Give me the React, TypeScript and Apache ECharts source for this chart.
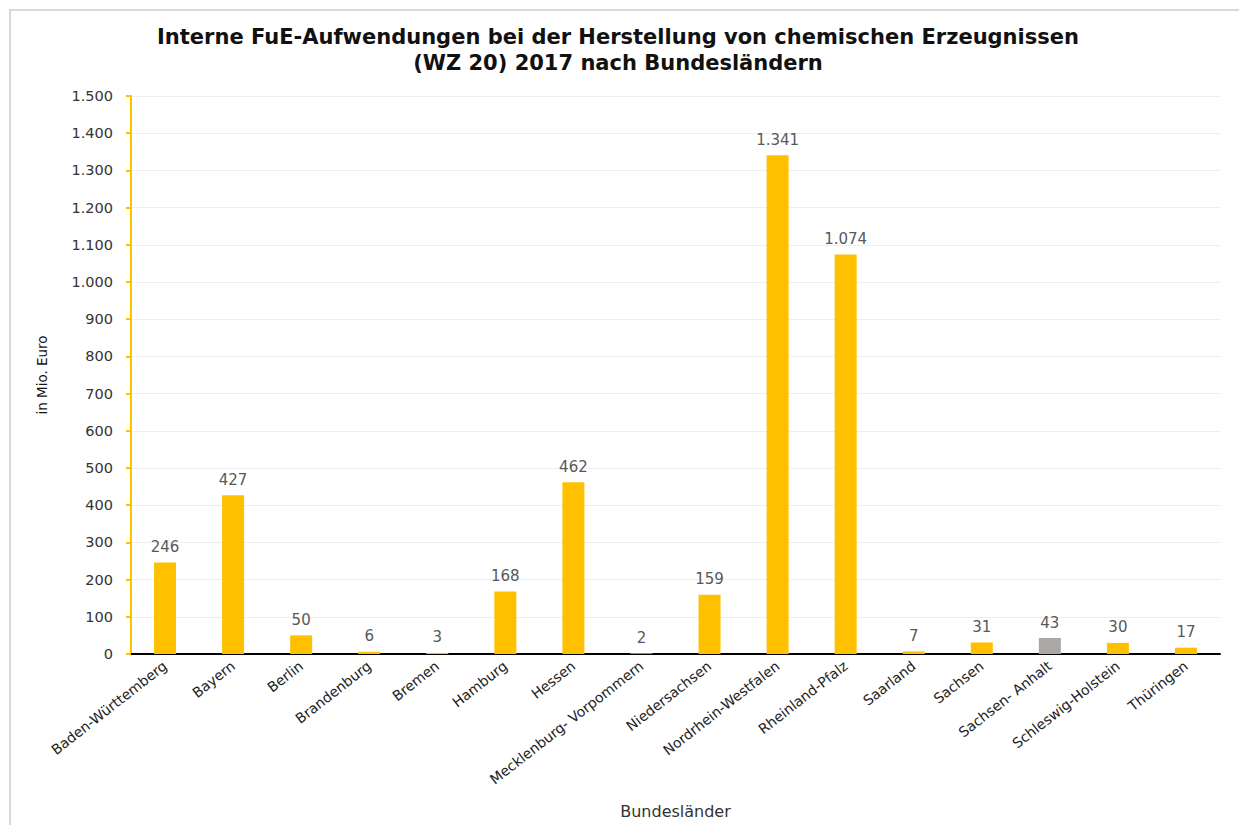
import React, { useEffect, useRef } from "react";
import * as echarts from "echarts";

const categories = [
  "Baden-Württemberg",
  "Bayern",
  "Berlin",
  "Brandenburg",
  "Bremen",
  "Hamburg",
  "Hessen",
  "Mecklenburg- Vorpommern",
  "Niedersachsen",
  "Nordrhein-Westfalen",
  "Rheinland-Pfalz",
  "Saarland",
  "Sachsen",
  "Sachsen- Anhalt",
  "Schleswig-Holstein",
  "Thüringen",
];
const values = [246, 427, 50, 6, 3, 168, 462, 2, 159, 1341, 1074, 7, 31, 43, 30, 17];
const highlighted = ["Sachsen- Anhalt"];

const titleLines = [
  "Interne FuE-Aufwendungen bei der Herstellung von chemischen Erzeugnissen",
  "(WZ 20) 2017 nach Bundesländern",
];

const fmt = (v: number) => v.toLocaleString("de-DE");

export default function App() {
  const ref = useRef<HTMLDivElement>(null);
  useEffect(() => {
    document.body.style.margin = "0";
    if (!ref.current) return;
    const chart = echarts.init(ref.current, null, { renderer: "svg" });
    const font = "'DejaVu Sans', sans-serif";
    chart.setOption({
      animation: false,
      backgroundColor: "#ffffff",
      textStyle: { fontFamily: font },
      title: {
        text: titleLines.join("\n"),
        left: 613,
        top: 19,
        textAlign: "center",
        textStyle: {
          fontFamily: font,
          fontSize: 21,
          fontWeight: "bold",
          color: "#111111",
          lineHeight: 26,
        },
      },
      graphic: [
        {
          type: "rect",
          shape: { x: 10, y: 10, width: 1250, height: 840 },
          style: { fill: "none", stroke: "#d9d9d9", lineWidth: 2 },
          silent: true,
        },
      ],
      grid: { left: 131, right: 19, top: 96, bottom: 171, containLabel: false },
      xAxis: {
        type: "category",
        data: categories,
        name: "Bundesländer",
        nameLocation: "middle",
        nameGap: 149,
        nameTextStyle: { fontFamily: font, fontSize: 16, color: "#333333" },
        axisLine: { show: true, lineStyle: { color: "#000000", width: 2 } },
        axisTick: { show: false },
        axisLabel: {
          rotate: 38,
          interval: 0,
          fontSize: 14,
          color: "#222222",
          margin: 10,
        },
      },
      yAxis: {
        type: "value",
        min: 0,
        max: 1500,
        interval: 100,
        name: "in Mio. Euro",
        nameLocation: "middle",
        nameGap: 82,
        nameRotate: 90,
        nameTextStyle: { fontFamily: font, fontSize: 13.5, color: "#111111" },
        axisLine: { show: true, lineStyle: { color: "#FFC000", width: 2 } },
        axisTick: { show: true, length: 5, lineStyle: { color: "#FFC000", width: 2 } },
        splitLine: { show: true, lineStyle: { color: "#eeeeee", width: 1 } },
        axisLabel: {
          fontSize: 14.5,
          color: "#333333",
          margin: 18,
          formatter: (v: number) => fmt(v),
        },
      },
      series: [
        {
          type: "bar",
          barWidth: 22,
          data: categories.map((c, i) => ({
            value: values[i],
            itemStyle: { color: highlighted.includes(c) ? "#ABA7A6" : "#FFC000" },
          })),
          label: {
            show: true,
            position: "top",
            distance: 8,
            fontSize: 15,
            color: "#595959",
            formatter: (p: any) => fmt(p.value),
          },
        },
      ],
    });
    return () => chart.dispose();
  }, []);
  return <div ref={ref} style={{ width: 1239, height: 825 }} />;
}
